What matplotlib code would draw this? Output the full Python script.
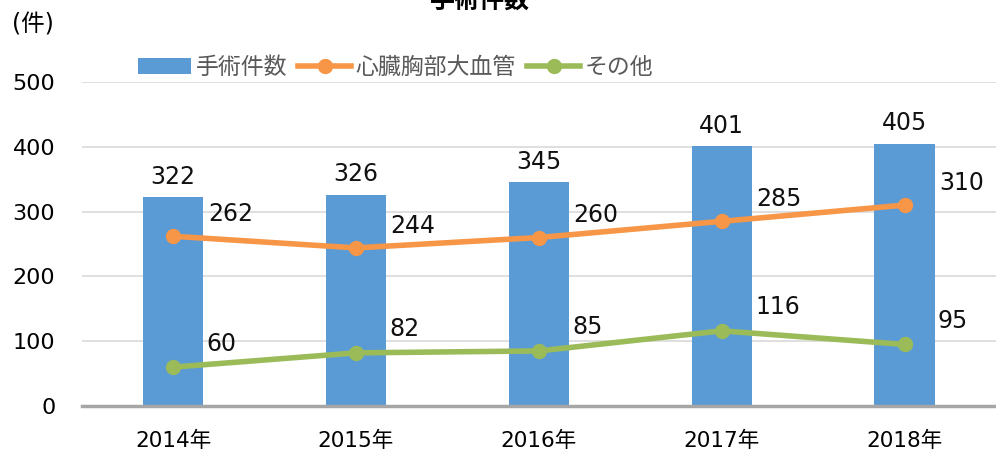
import matplotlib.pyplot as plt
import numpy as np

plt.rcParams['font.family'] = ['DejaVu Sans', 'Noto Sans CJK JP']

years = ["2014年", "2015年", "2016年", "2017年", "2018年"]
total = [322, 326, 345, 401, 405]
cardio = [262, 244, 260, 285, 310]
other = [60, 82, 85, 116, 95]

blue = "#5B9BD5"
orange = "#F79646"
green = "#9BBB59"

fig = plt.figure(figsize=(9.96, 4.54), dpi=100)
ax = fig.add_axes([0.082, 0.1057, 0.918, 0.7137])

x = np.arange(len(years))
bars = ax.bar(x, total, width=0.33, color=blue, label="手術件数", zorder=2)
l1, = ax.plot(x, cardio, color=orange, lw=4, marker="o", markersize=10,
              label="心臓胸部大血管", zorder=3)
l2, = ax.plot(x, other, color=green, lw=4, marker="o", markersize=10,
              label="その他", zorder=3)

# value labels
for xi, v in zip(x, total):
    ax.annotate(str(v), (xi, v), xytext=(0, 6), textcoords="offset points",
                ha="center", va="bottom", fontsize=17, color="#111111")
for xi, v in zip(x, cardio):
    ax.annotate(str(v), (xi, v), xytext=(25, 16), textcoords="offset points",
                ha="left", va="center", fontsize=17, color="#111111")
for xi, v in zip(x, other):
    ax.annotate(str(v), (xi, v), xytext=(24, 17), textcoords="offset points",
                ha="left", va="center", fontsize=17, color="#111111")

ax.set_xlim(-0.5, 4.5)
ax.set_ylim(0, 500)
ax.set_yticks(range(0, 501, 100))
ax.set_xticks(x)
ax.set_xticklabels(years, fontsize=15.5)
ax.tick_params(axis="y", labelsize=16, length=0, pad=19)
ax.tick_params(axis="x", length=0, pad=18)
ax.grid(axis="y", color="#D9D9D9", lw=1.2, zorder=0)
for s in ["top", "right", "left"]:
    ax.spines[s].set_visible(False)
ax.spines["bottom"].set_color("#A6A6A6")
ax.spines["bottom"].set_linewidth(2.5)

fig.text(0.012, 0.945, "(件)", fontsize=17, va="center", ha="left")
fig.text(0.482, 0.983, "手術件数", fontsize=18, fontweight="bold",
         ha="center", va="baseline")

leg = fig.legend([bars, l1, l2], ["手術件数", "心臓胸部大血管", "その他"],
                 loc="center left", bbox_to_anchor=(0.118, 0.852), ncol=3,
                 frameon=False, fontsize=16.5, handlelength=2.3,
                 handletextpad=0.2, columnspacing=0.5)
for t in leg.get_texts():
    t.set_color("#595959")

fig.savefig("out.png", dpi=100)
